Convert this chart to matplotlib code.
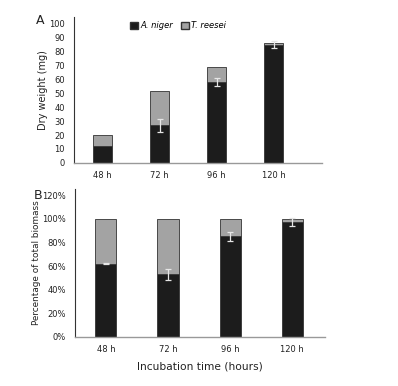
import matplotlib
matplotlib.use('Agg')
import matplotlib.pyplot as plt
import numpy as np
from matplotlib.patches import Patch

labels = ['48 h', '72 h', '96 h', '120 h']
# panel A: dry weight (mg)
niger_mg = [12, 27, 58, 85]
reesei_mg = [8, 24.5, 11, 1]
niger_mg_err = [0, 4.5, 3, 2.5]
# panel B: percentage of total biomass
niger_pct = [62, 53, 85, 97]
reesei_pct = [38, 47, 15, 3]
niger_pct_err = [0.5, 4.5, 4, 3.5]

black = '#1c1c1c'
grey = '#a3a3a3'
errc = '#e6e6e6'

fig = plt.figure(figsize=(3.98, 3.86), dpi=100)
axA = fig.add_axes([0.186, 0.578, 0.623, 0.378])
axB = fig.add_axes([0.188, 0.127, 0.629, 0.383])

x = np.arange(len(labels))
w = 0.34

axA.bar(x, niger_mg, w, color=black, edgecolor='#333333', linewidth=0.6)
axA.bar(x, reesei_mg, w, bottom=niger_mg, color=grey, edgecolor='#333333', linewidth=0.6)
# no error bar shown where the error is zero
m = np.array(niger_mg_err) > 0
axA.errorbar(x[m], np.array(niger_mg)[m], yerr=np.array(niger_mg_err)[m], fmt='none', ecolor=errc,
             elinewidth=0.9, capsize=2.5, capthick=0.9)
axA.set_xlim(-0.5, 3.85)
axA.set_ylim(0, 105)
axA.set_yticks(np.arange(0, 101, 10))
axA.set_xticks(x)
axA.set_xticklabels(labels)
axA.set_ylabel('Dry weight (mg)', fontsize=7, color='#222222', labelpad=1)
axA.text(-0.155, 1.02, 'A', transform=axA.transAxes, fontsize=9, va='top', ha='left', color='#222222')
handles = [Patch(facecolor=black, edgecolor='#333333', label='A. niger'),
           Patch(facecolor=grey, edgecolor='#333333', label='T. reesei')]
leg = axA.legend(handles=handles, loc='center', bbox_to_anchor=(0.42, 0.94), ncol=2, frameon=False,
                 fontsize=6, handlelength=0.9, handleheight=0.9, handletextpad=0.3, columnspacing=1.0)
for t in leg.get_texts():
    t.set_fontstyle('italic')

axB.bar(x, niger_pct, w, color=black, edgecolor='#333333', linewidth=0.6)
axB.bar(x, reesei_pct, w, bottom=niger_pct, color=grey, edgecolor='#333333', linewidth=0.6)
axB.errorbar(x, niger_pct, yerr=niger_pct_err, fmt='none', ecolor=errc, elinewidth=0.9, capsize=2.5, capthick=0.9)
axB.set_xlim(-0.5, 3.53)
axB.set_ylim(0, 125)
axB.set_yticks(np.arange(0, 121, 20))
axB.set_yticklabels(['%d%%' % v for v in range(0, 121, 20)])
axB.set_xticks(x)
axB.set_xticklabels(labels)
axB.set_ylabel('Percentage of total biomass', fontsize=6.4, color='#222222', labelpad=1)
axB.set_xlabel('Incubation time (hours)', fontsize=7.7, color='#222222', labelpad=5)
axB.text(-0.165, 1.0, 'B', transform=axB.transAxes, fontsize=9, va='top', ha='left', color='#222222')

for ax in (axA, axB):
    ax.spines['top'].set_visible(False)
    ax.spines['right'].set_visible(False)
    ax.spines['left'].set_color('#333333')
    ax.spines['bottom'].set_color('#999999')
    ax.spines['left'].set_linewidth(0.8)
    ax.spines['bottom'].set_linewidth(1.0)
    ax.tick_params(length=0, labelsize=6, colors='#222222', pad=6.5)
    ax.tick_params(axis='x', pad=6)

fig.savefig('out.png', dpi=100)
